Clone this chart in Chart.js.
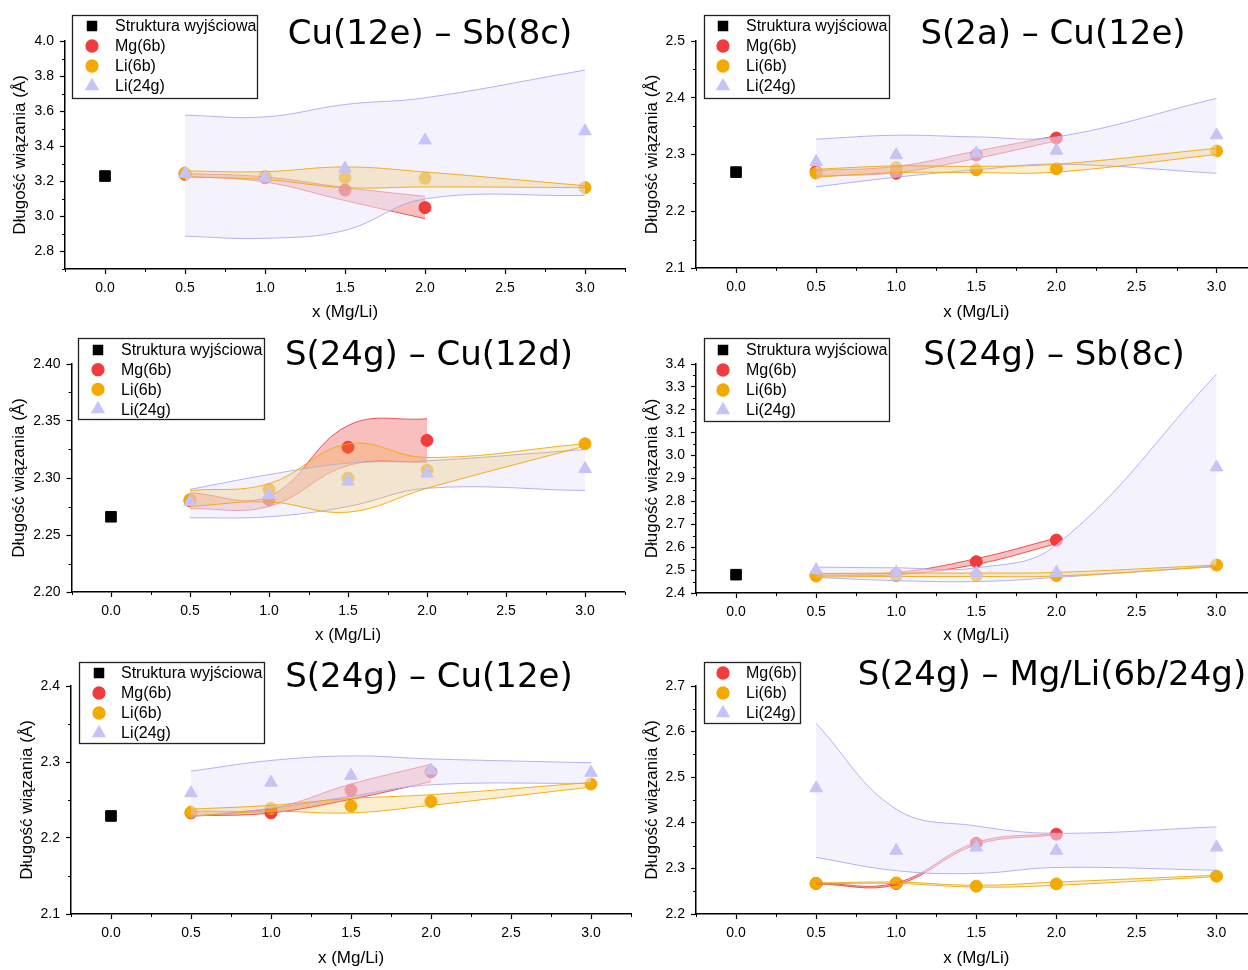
<!DOCTYPE html>
<html lang="pl">
<head>
<meta charset="utf-8">
<title>Długość wiązania – x (Mg/Li)</title>
<script src="https://cdn.jsdelivr.net/npm/chart.js@4.4.1/dist/chart.umd.min.js"></script>
<style>
  html, body { margin: 0; padding: 0; background: #fff; overflow: hidden; }
  body { width: 1248px; height: 970px; position: relative; }
  canvas { position: absolute; }
</style>
</head>
<body>
<canvas id="c1"></canvas>
<canvas id="c2"></canvas>
<canvas id="c3"></canvas>
<canvas id="c4"></canvas>
<canvas id="c5"></canvas>
<canvas id="c6"></canvas>
<script>
// x positions of the measurements
const xStart = [0.0];
const xAll = [0.5, 1.0, 1.5, 2.0, 3.0];
const xMg = [0.5, 1.0, 1.5, 2.0];
const xTickValues = [0.0, 0.5, 1.0, 1.5, 2.0, 2.5, 3.0];
const xMinorValues = [-0.25, 0.25, 0.75, 1.25, 1.75, 2.25, 2.75, 3.25];

const seriesNames = ['Struktura wyjściowa', 'Mg(6b)', 'Li(6b)', 'Li(24g)'];
const panelTitles = ['Cu(12e) – Sb(8c)', 'S(2a) – Cu(12e)', 'S(24g) – Cu(12d)',
                     'S(24g) – Sb(8c)', 'S(24g) – Cu(12e)', 'S(24g) – Mg/Li(6b/24g)'];

// panel 1: Cu(12e) - Sb(8c)
const p1Start = [3.23];
const p1Mg = [3.24, 3.22, 3.15, 3.05];
const p1MgLo = [3.23, 3.196, 3.09, 2.987];
const p1MgHi = [3.245, 3.225, 3.164, 3.114];
const p1Li6 = [3.247, 3.229, 3.221, 3.217, 3.164];
const p1Li6Lo = [3.225, 3.21, 3.164, 3.168, 3.164];
const p1Li6Hi = [3.259, 3.255, 3.282, 3.253, 3.175];
const p1Li24 = [3.244, 3.221, 3.273, 3.434, 3.486];
const p1Li24Lo = [2.887, 2.875, 2.92, 3.1, 3.12];
const p1Li24Hi = [3.577, 3.567, 3.638, 3.676, 3.834];
const p1YTicks = [2.8, 3.0, 3.2, 3.4, 3.6, 3.8, 4.0];

// panel 2: S(2a) - Cu(12e)
const p2Start = [2.269];
const p2Mg = [2.270, 2.267, 2.299, 2.329];
const p2MgLo = [2.262, 2.268, 2.293, 2.324];
const p2MgHi = [2.272, 2.279, 2.306, 2.333];
const p2Li6 = [2.267, 2.277, 2.273, 2.275, 2.306];
const p2Li6Lo = [2.26, 2.268, 2.268, 2.269, 2.30];
const p2Li6Hi = [2.274, 2.28, 2.279, 2.283, 2.311];
const p2Li24 = [2.287, 2.299, 2.302, 2.307, 2.334];
const p2Li24Lo = [2.243, 2.26, 2.273, 2.283, 2.267];
const p2Li24Hi = [2.327, 2.334, 2.331, 2.331, 2.399];
const p2YTicks = [2.1, 2.2, 2.3, 2.4, 2.5];

// panel 3: S(24g) - Cu(12d)
const p3Start = [2.266];
const p3Mg = [2.280, 2.281, 2.327, 2.333];
const p3MgLo = [2.273, 2.275, 2.311, 2.314];
const p3MgHi = [2.287, 2.284, 2.346, 2.352];
const p3Li6 = [2.281, 2.29, 2.30, 2.307, 2.33];
const p3Li6Lo = [2.275, 2.279, 2.27, 2.291, 2.328];
const p3Li6Hi = [2.289, 2.295, 2.33, 2.318, 2.33];
const p3Li24 = [2.279, 2.285, 2.297, 2.304, 2.308];
const p3Li24Lo = [2.265, 2.266, 2.275, 2.291, 2.289];
const p3Li24Hi = [2.29, 2.303, 2.313, 2.315, 2.325];
const p3YTicks = [2.20, 2.25, 2.30, 2.35, 2.40];

// panel 4: S(24g) - Sb(8c)
const p4Start = [2.48];
const p4Mg = [2.48, 2.482, 2.537, 2.631];
const p4MgLo = [2.477, 2.48, 2.525, 2.615];
const p4MgHi = [2.485, 2.49, 2.55, 2.64];
const p4Li6 = [2.474, 2.476, 2.476, 2.476, 2.522];
const p4Li6Lo = [2.47, 2.472, 2.472, 2.474, 2.515];
const p4Li6Hi = [2.485, 2.487, 2.487, 2.49, 2.522];
const p4Li24 = [2.50, 2.489, 2.487, 2.489, 2.949];
const p4Li24Lo = [2.468, 2.454, 2.45, 2.468, 2.518];
const p4Li24Hi = [2.513, 2.51, 2.51, 2.61, 3.356];
const p4YTicks = [2.4, 2.5, 2.6, 2.7, 2.8, 2.9, 3.0, 3.1, 3.2, 3.3, 3.4];

// panel 5: S(24g) - Cu(12e)
const p5Start = [2.229];
const p5Mg = [2.233, 2.233, 2.263, 2.287];
const p5MgLo = [2.229, 2.233, 2.251, 2.274];
const p5MgHi = [2.235, 2.239, 2.271, 2.297];
const p5Li6 = [2.234, 2.239, 2.242, 2.248, 2.271];
const p5Li6Lo = [2.229, 2.235, 2.233, 2.243, 2.267];
const p5Li6Hi = [2.238, 2.243, 2.252, 2.257, 2.273];
const p5Li24 = [2.259, 2.273, 2.282, 2.289, 2.286];
const p5Li24Lo = [2.228, 2.239, 2.255, 2.27, 2.272];
const p5Li24Hi = [2.288, 2.302, 2.308, 2.304, 2.299];
const p5YTicks = [2.1, 2.2, 2.3, 2.4];

// panel 6: S(24g) - Mg/Li(6b/24g), no starting structure
const p6Mg = [2.267, 2.267, 2.355, 2.375];
const p6MgLo = [2.266, 2.264, 2.352, 2.374];
const p6MgHi = [2.268, 2.268, 2.357, 2.377];
const p6Li6 = [2.267, 2.268, 2.261, 2.266, 2.283];
const p6Li6Lo = [2.266, 2.267, 2.259, 2.263, 2.282];
const p6Li6Hi = [2.268, 2.27, 2.263, 2.27, 2.285];
const p6Li24 = [2.476, 2.339, 2.346, 2.339, 2.346];
const p6Li24Lo = [2.324, 2.295, 2.289, 2.302, 2.296];
const p6Li24Hi = [2.618, 2.43, 2.393, 2.377, 2.391];
const p6YTicks = [2.2, 2.3, 2.4, 2.5, 2.6, 2.7];

const panels = [
  { id: 'c1', title: panelTitles[0], start: p1Start, mg: p1Mg, mgLo: p1MgLo, mgHi: p1MgHi,
    li6: p1Li6, li6Lo: p1Li6Lo, li6Hi: p1Li6Hi, li24: p1Li24, li24Lo: p1Li24Lo, li24Hi: p1Li24Hi,
    yMin: 2.7, yMax: 4.0, yTicks: p1YTicks, decimals: 1 },
  { id: 'c2', title: panelTitles[1], start: p2Start, mg: p2Mg, mgLo: p2MgLo, mgHi: p2MgHi,
    li6: p2Li6, li6Lo: p2Li6Lo, li6Hi: p2Li6Hi, li24: p2Li24, li24Lo: p2Li24Lo, li24Hi: p2Li24Hi,
    yMin: 2.1, yMax: 2.5, yTicks: p2YTicks, decimals: 1 },
  { id: 'c3', title: panelTitles[2], start: p3Start, mg: p3Mg, mgLo: p3MgLo, mgHi: p3MgHi,
    li6: p3Li6, li6Lo: p3Li6Lo, li6Hi: p3Li6Hi, li24: p3Li24, li24Lo: p3Li24Lo, li24Hi: p3Li24Hi,
    yMin: 2.2, yMax: 2.4, yTicks: p3YTicks, decimals: 2 },
  { id: 'c4', title: panelTitles[3], start: p4Start, mg: p4Mg, mgLo: p4MgLo, mgHi: p4MgHi,
    li6: p4Li6, li6Lo: p4Li6Lo, li6Hi: p4Li6Hi, li24: p4Li24, li24Lo: p4Li24Lo, li24Hi: p4Li24Hi,
    yMin: 2.4, yMax: 3.4, yTicks: p4YTicks, decimals: 1 },
  { id: 'c5', title: panelTitles[4], start: p5Start, mg: p5Mg, mgLo: p5MgLo, mgHi: p5MgHi,
    li6: p5Li6, li6Lo: p5Li6Lo, li6Hi: p5Li6Hi, li24: p5Li24, li24Lo: p5Li24Lo, li24Hi: p5Li24Hi,
    yMin: 2.1, yMax: 2.4, yTicks: p5YTicks, decimals: 1 },
  { id: 'c6', title: panelTitles[5], start: null, mg: p6Mg, mgLo: p6MgLo, mgHi: p6MgHi,
    li6: p6Li6, li6Lo: p6Li6Lo, li6Hi: p6Li6Hi, li24: p6Li24, li24Lo: p6Li24Lo, li24Hi: p6Li24Hi,
    yMin: 2.2, yMax: 2.7, yTicks: p6YTicks, decimals: 1 }
];

// page layout (pixels): canvas box, plot area, title, axis title offsets, legend box
const layouts = [
  { canvas: [0, 0, 640, 323], area: [65, 41, 625, 269], title: [430, 44], yTitlePad: 10, xTitlePad: 0,
    legend: { box: [72, 15, 185, 83], row0: 26, dy: 20, mx: 92, tx: 115 } },
  { canvas: [630, 0, 640, 323], area: [696, 41, 1256.6, 268], title: [1053, 44], yTitlePad: 12, xTitlePad: 0,
    legend: { box: [704, 15, 185, 83], row0: 26, dy: 20, mx: 723, tx: 746 } },
  { canvas: [0, 323, 640, 323], area: [71.5, 364, 624.5, 592], title: [429, 365], yTitlePad: 9, xTitlePad: 0,
    legend: { box: [78, 338, 186, 81], row0: 350, dy: 19.7, mx: 98, tx: 121 } },
  { canvas: [630, 323, 640, 323], area: [696, 364, 1256.6, 593], title: [1054, 365], yTitlePad: 12, xTitlePad: 0,
    legend: { box: [704, 338, 185, 83], row0: 350, dy: 20, mx: 723, tx: 746 } },
  { canvas: [0, 646, 640, 324], area: [71, 686, 631, 914], title: [429, 687], yTitlePad: 17, xTitlePad: 1,
    legend: { box: [79, 662, 185, 81], row0: 673, dy: 20, mx: 99, tx: 121 } },
  { canvas: [630, 646, 640, 324], area: [696, 686, 1256.6, 914], title: [1052, 685], yTitlePad: 12, xTitlePad: 1,
    legend: { box: [704, 662, 96, 61], row0: 673, dy: 20, mx: 723, tx: 746 } }
];

// lavender band is fairly opaque and sits over the circles and the red band
const styles = {
  start: { color: '#000000', shape: 'rect', radius: 7.5, legendRadius: 6.5 },
  mg: { color: '#f03c3c', shape: 'circle', radius: 6, legendRadius: 6,
        fill: 'rgba(238,64,64,0.34)', edge: 'rgba(232,60,60,0.85)' },
  li6: { color: '#f2aa00', shape: 'circle', radius: 6, legendRadius: 6,
         fill: 'rgba(242,175,20,0.2)', edge: 'rgba(240,168,10,0.9)' },
  li24: { color: '#c5c3f8', shape: 'triangle', radius: 7.3, legendRadius: 7,
          fill: 'rgba(233,231,251,0.55)', edge: 'rgba(172,170,245,0.9)' }
};

const labelFont = '"Liberation Sans", Arial, sans-serif';
Chart.defaults.font.family = labelFont;
Chart.defaults.color = '#000';

function pts(xv, yv) {
  return xv.map((x, i) => ({ x: x, y: yv[i] }));
}

function scatterSet(label, xv, yv, st, order) {
  return {
    label: label, data: pts(xv, yv), pointStyle: st.shape,
    pointRadius: st.radius, pointHoverRadius: st.radius,
    backgroundColor: st.color, borderColor: st.color, borderWidth: 1, order: order
  };
}

// lower and upper edge of a shaded band, upper one fills down to the lower
function bandPair(xv, lo, hi, st, order) {
  const base = { type: 'line', showLine: true, pointRadius: 0, pointHoverRadius: 0,
                 tension: 0.4, borderWidth: 1, borderColor: st.edge };
  return [
    Object.assign({}, base, { data: pts(xv, lo), fill: false, order: order - 0.5 }),
    Object.assign({}, base, { data: pts(xv, hi), fill: '-1', backgroundColor: st.fill, order: order })
  ];
}

// small ticks between the labelled ones
const minorTicks = {
  id: 'minorTicks',
  afterDraw(chart, args, opts) {
    const ctx = chart.ctx;
    const sx = chart.scales.x, sy = chart.scales.y;
    ctx.save();
    ctx.strokeStyle = '#000';
    ctx.lineWidth = 1;
    opts.x.forEach(v => {
      const px = Math.round(sx.getPixelForValue(v)) + 0.5;
      ctx.beginPath(); ctx.moveTo(px, sx.top); ctx.lineTo(px, sx.top + 3); ctx.stroke();
    });
    opts.y.forEach(v => {
      const py = Math.round(sy.getPixelForValue(v)) + 0.5;
      ctx.beginPath(); ctx.moveTo(sy.right, py); ctx.lineTo(sy.right - 3, py); ctx.stroke();
    });
    ctx.restore();
  }
};

// boxed legend inside the plot, like the original
const boxLegend = {
  id: 'boxLegend',
  afterDraw(chart, args, o) {
    const ctx = chart.ctx;
    const [bx, by, bw, bh] = o.box;
    ctx.save();
    ctx.fillStyle = '#fff';
    ctx.fillRect(bx, by, bw, bh);
    ctx.strokeStyle = '#222';
    ctx.lineWidth = 1.3;
    ctx.strokeRect(bx + 0.5, by + 0.5, bw, bh);
    ctx.font = '16px ' + labelFont;
    ctx.textBaseline = 'middle';
    ctx.textAlign = 'left';
    o.items.forEach((it, i) => {
      const cy = o.row0 + i * o.dy;
      ctx.fillStyle = it.color;
      ctx.strokeStyle = it.color;
      Chart.helpers.drawPoint(ctx, { pointStyle: it.shape, radius: it.radius, borderWidth: 1, rotation: 0 }, o.mx, cy);
      ctx.fillStyle = '#000';
      ctx.fillText(it.label, o.tx, cy + 1);
    });
    ctx.restore();
  }
};

const panelTitle = {
  id: 'panelTitle',
  afterDraw(chart, args, o) {
    const ctx = chart.ctx;
    ctx.save();
    ctx.font = '34px "DejaVu Sans", Verdana, sans-serif';
    ctx.fillStyle = '#000';
    ctx.textAlign = 'center';
    ctx.textBaseline = 'alphabetic';
    ctx.fillText(o.text, o.x, o.y);
    ctx.restore();
  }
};

function minorsOf(ticks) {
  const out = [];
  for (let i = 0; i < ticks.length - 1; i++) out.push((ticks[i] + ticks[i + 1]) / 2);
  return out;
}

function buildPanel(P, L) {
  const cv = document.getElementById(P.id);
  const [cl, ct, cw, ch] = L.canvas;
  const [al, at, ar, ab] = L.area;
  cv.width = cw; cv.height = ch;
  cv.style.left = cl + 'px'; cv.style.top = ct + 'px';
  cv.style.width = cw + 'px'; cv.style.height = ch + 'px';

  // lower order = drawn later (on top)
  const datasets = [];
  datasets.push(scatterSet(seriesNames[3], xAll, P.li24, styles.li24, 0));
  datasets.push(...bandPair(xAll, P.li6Lo, P.li6Hi, styles.li6, 2));
  datasets.push(...bandPair(xAll, P.li24Lo, P.li24Hi, styles.li24, 4));
  datasets.push(...bandPair(xMg, P.mgLo, P.mgHi, styles.mg, 6));
  datasets.push(scatterSet(seriesNames[2], xAll, P.li6, styles.li6, 10));
  datasets.push(scatterSet(seriesNames[1], xMg, P.mg, styles.mg, 11));
  if (P.start) datasets.push(scatterSet(seriesNames[0], xStart, P.start, styles.start, 12));

  const items = [];
  if (P.start) items.push({ label: seriesNames[0], shape: styles.start.shape, color: styles.start.color, radius: styles.start.legendRadius });
  items.push({ label: seriesNames[1], shape: 'circle', color: styles.mg.color, radius: styles.mg.legendRadius });
  items.push({ label: seriesNames[2], shape: 'circle', color: styles.li6.color, radius: styles.li6.legendRadius });
  items.push({ label: seriesNames[3], shape: 'triangle', color: styles.li24.color, radius: styles.li24.legendRadius });

  const lg = L.legend;
  const yMinor = minorsOf(P.yTicks);
  if (P.yMin < P.yTicks[0]) yMinor.unshift(P.yMin);

  new Chart(cv, {
    type: 'scatter',
    data: { datasets: datasets },
    options: {
      responsive: false,
      animation: false,
      devicePixelRatio: 1,
      events: [],
      layout: { padding: { left: 0, top: at - ct, right: (cl + cw) - ar, bottom: 0 } },
      scales: {
        x: {
          type: 'linear', position: 'bottom', min: -0.25, max: 3.25,
          afterBuildTicks: s => { s.ticks = xTickValues.map(v => ({ value: v })); },
          afterFit: s => { s.height = (ct + ch) - ab; },
          ticks: { autoSkip: false, maxRotation: 0, padding: 6, color: '#000',
                   font: { size: 14 }, callback: v => Number(v).toFixed(1) },
          grid: { drawOnChartArea: false, drawTicks: true, tickLength: 5, tickColor: '#000', tickWidth: 1.2 },
          border: { display: true, color: '#000', width: 1.5 },
          title: { display: true, text: 'x (Mg/Li)', color: '#000', font: { size: 17 },
                   padding: { top: 0, bottom: L.xTitlePad } }
        },
        y: {
          type: 'linear', position: 'left', min: P.yMin, max: P.yMax,
          afterBuildTicks: s => { s.ticks = P.yTicks.map(v => ({ value: v })); },
          afterFit: s => { s.width = al - cl; },
          ticks: { autoSkip: false, padding: 6, color: '#000',
                   font: { size: 14 }, callback: v => Number(v).toFixed(P.decimals) },
          grid: { drawOnChartArea: false, drawTicks: true, tickLength: 5, tickColor: '#000', tickWidth: 1.2 },
          border: { display: true, color: '#000', width: 1.5 },
          title: { display: true, text: 'Długość wiązania (Å)', color: '#000', font: { size: 17 },
                   padding: { top: L.yTitlePad, bottom: 0 } }
        }
      },
      plugins: {
        legend: { display: false },
        tooltip: { enabled: false },
        minorTicks: { x: xMinorValues, y: yMinor },
        boxLegend: { box: [lg.box[0] - cl, lg.box[1] - ct, lg.box[2], lg.box[3]],
                     row0: lg.row0 - ct, dy: lg.dy, mx: lg.mx - cl, tx: lg.tx - cl, items: items },
        panelTitle: { text: P.title, x: L.title[0] - cl, y: L.title[1] - ct }
      }
    },
    plugins: [minorTicks, boxLegend, panelTitle]
  });
}

panels.forEach((P, i) => buildPanel(P, layouts[i]));
</script>
</body>
</html>
